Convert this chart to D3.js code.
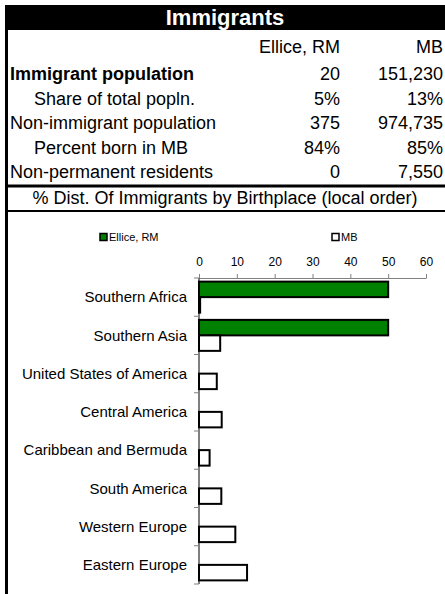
<!DOCTYPE html>
<html>
<head>
<meta charset="utf-8">
<script src="https://cdn.jsdelivr.net/npm/d3@7"></script>
<style>
  html, body { margin: 0; padding: 0; background: #fff; }
  svg { display: block; font-family: "Liberation Sans", Arial, sans-serif; }
</style>
</head>
<body>
<svg id="chart"></svg>
<script>
const width = 445, height = 594

// table
const title = "Immigrants"
const colHeads = ["Ellice, RM", "MB"]
const rowLabels = ["Immigrant population", "Share of total popln.", "Non-immigrant population",
                   "Percent born in MB", "Non-permanent residents"]
const elliceVals = ["20", "5%", "375", "84%", "0"]
const mbVals = ["151,230", "13%", "974,735", "85%", "7,550"]
const subtitle = "% Dist. Of Immigrants by Birthplace (local order)"

// bar chart
const categories = ["Southern Africa", "Southern Asia", "United States of America", "Central America",
                    "Caribbean and Bermuda", "South America", "Western Europe", "Eastern Europe"]
const series = ["Ellice, RM", "MB"]
const elliceShare = [50, 50, 0, 0, 0, 0, 0, 0]
const mbShare = [0.3, 5.6, 4.7, 6.0, 2.8, 5.9, 9.6, 12.7]
const xTicks = [0, 10, 20, 30, 40, 50, 60]

const colors = { "Ellice, RM": "#008000", "MB": "#ffffff" }
const left = 5

const svg = d3.select("#chart").attr("width", width).attr("height", height)

// frame
svg.append("rect").attr("x", left).attr("y", 5).attr("width", width - left).attr("height", 25).attr("fill", "#000")
svg.append("rect").attr("x", left).attr("y", 5).attr("width", 3).attr("height", height - 5).attr("fill", "#000")
svg.append("text").attr("x", (left + width) / 2).attr("y", 17.5).attr("dy", "0.35em")
    .attr("text-anchor", "middle").attr("fill", "#fff")
    .style("font-size", "22px").style("font-weight", "bold").text(title)

// column heads
let heads = svg.append("g").style("font-size", "18px")
heads.selectAll("text").data(colHeads).enter().append("text")
    .attr("x", (d, i) => i == 0 ? 340 : 443)
    .attr("y", 47).attr("dy", "0.35em").attr("text-anchor", "end")
    .text(d => d)

// rows
let rowY = d3.scalePoint().domain(d3.range(rowLabels.length)).range([74, 172])
let rows = svg.append("g").style("font-size", "18px")
    .selectAll("g").data(rowLabels).enter().append("g")
    .attr("transform", (d, i) => `translate(0,${rowY(i)})`)
rows.append("text")
    .attr("x", (d, i) => (i == 1 || i == 3) ? 34 : 10)
    .attr("dy", "0.35em")
    .style("font-weight", (d, i) => i == 0 ? "bold" : "normal")
    .text(d => d)
rows.append("text").attr("x", 340).attr("dy", "0.35em").attr("text-anchor", "end").text((d, i) => elliceVals[i])
rows.append("text").attr("x", 443).attr("dy", "0.35em").attr("text-anchor", "end").text((d, i) => mbVals[i])

// subtitle box
svg.append("line").attr("x1", left).attr("x2", width).attr("y1", 186).attr("y2", 186)
    .attr("stroke", "#000").attr("stroke-width", 3)
svg.append("text").attr("x", (left + width) / 2).attr("y", 198).attr("dy", "0.35em")
    .attr("text-anchor", "middle").style("font-size", "18px").text(subtitle)
svg.append("line").attr("x1", left).attr("x2", width).attr("y1", 211).attr("y2", 211)
    .attr("stroke", "#000").attr("stroke-width", 2)

// legend
let legend = svg.append("g").style("font-size", "11px")
    .selectAll("g").data(series).enter().append("g")
    .attr("transform", (d, i) => `translate(${i == 0 ? 100 : 332},237)`)
legend.append("rect").attr("x", 0).attr("y", -3.5).attr("width", 7).attr("height", 7)
    .attr("fill", d => colors[d]).attr("stroke", "#000").attr("stroke-width", 1.5)
legend.append("text").attr("x", 9).attr("dy", "0.35em").text(d => d)

// bar chart
let x = d3.scaleLinear().domain([0, 60]).range([199, 426])
let y = d3.scaleBand().domain(categories).range([278, 584]).paddingInner(0).paddingOuter(0)
let ySub = d3.scaleBand().domain(series).range([0, y.bandwidth()]).paddingInner(0).paddingOuter(0.234)

let xAxis = svg.append("g").attr("transform", `translate(0,${y.range()[0]})`)
    .call(d3.axisTop(x).tickValues(xTicks).tickSize(4).tickSizeOuter(0).tickPadding(8))
xAxis.selectAll("text").style("font-size", "12px").attr("fill", "#000").style("font-family", "inherit")
xAxis.select(".domain").attr("stroke", "#808080")
xAxis.selectAll(".tick line").attr("stroke", "#808080")

let data = categories.map((c, i) => ({ cat: c, vals: [
    { s: "Ellice, RM", v: elliceShare[i] }, { s: "MB", v: mbShare[i] }] }))

let groups = svg.append("g").selectAll("g").data(data).enter().append("g")
    .attr("transform", d => `translate(0,${y(d.cat)})`)
groups.selectAll("rect").data(d => d.vals.filter(v => v.v > 0)).enter().append("rect")
    .attr("x", x(0)).attr("y", d => ySub(d.s))
    .attr("width", d => x(d.v) - x(0)).attr("height", ySub.bandwidth())
    .attr("fill", d => colors[d.s]).attr("stroke", "#000").attr("stroke-width", 2)

// category axis (ticks on band boundaries)
let bounds = categories.map(c => y(c)).concat([y.range()[1]])
svg.append("line").attr("x1", x(0)).attr("x2", x(0)).attr("y1", y.range()[0]).attr("y2", y.range()[1])
    .attr("stroke", "#000").attr("stroke-width", 1)
svg.append("g").selectAll("line").data(bounds).enter().append("line")
    .attr("x1", x(0) - 5).attr("x2", x(0)).attr("y1", d => d).attr("y2", d => d)
    .attr("stroke", "#808080").attr("stroke-width", 1)
svg.append("g").style("font-size", "15px").selectAll("text").data(categories).enter().append("text")
    .attr("x", 187).attr("y", d => y(d) + y.bandwidth() / 2).attr("dy", "0.35em")
    .attr("text-anchor", "end").text(d => d)
</script>
</body>
</html>
